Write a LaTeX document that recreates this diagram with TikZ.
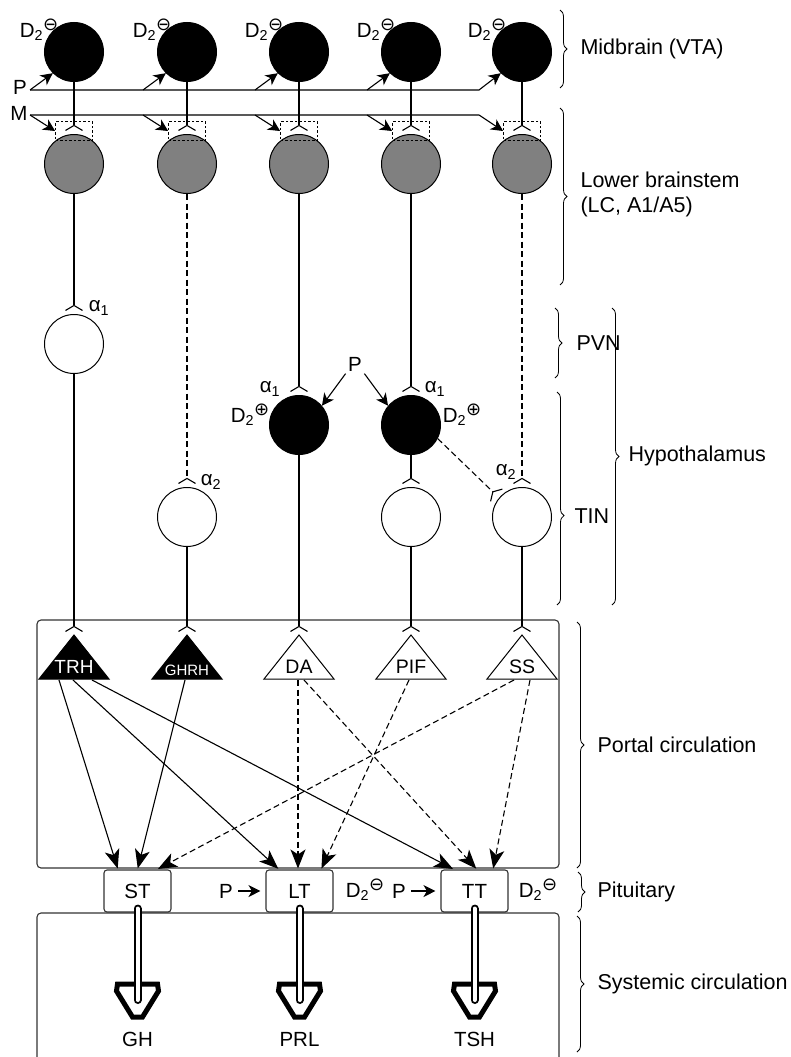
\documentclass[tikz,border=0pt]{standalone}
\usepackage{fontspec}
\setmainfont{Liberation Sans}
\newfontfamily\symfont{DejaVu Sans}
\usetikzlibrary{arrows.meta, calc, decorations.pathreplacing}
\newcommand{\dtwo}[1]{D\textsubscript{2}\raisebox{0.32em}{\symfont\fontsize{18}{18}\selectfont #1}}
\tikzset{
  nrn/.style={circle, draw, line width=1pt, minimum size=59pt, inner sep=0pt},
  rcp/.style={-{Straight Barb[reversed, length=5pt, width=17pt]}, shorten >=3pt},
  arr/.style={-{Stealth[length=12pt, width=12pt, inset=3.5pt]}},
  bigarr/.style={-{Stealth[length=19pt, width=15pt, inset=5pt]}, shorten >=1pt},
  dsh/.style={dash pattern=on 6pt off 3.5pt},
  brc/.style={decorate, decoration={brace, amplitude=7pt}, line width=0.8pt},
  lbl/.style={anchor=west, font=\fontsize{21.5}{25}\selectfont, align=left},
  pitbox/.style={draw=black!80, rounded corners=3pt, minimum width=67pt, minimum height=42pt, inner sep=0pt}
}
\begin{document}
\begin{tikzpicture}[x=1pt, y=-1pt, line width=1.1pt, inner sep=2pt, font=\fontsize{20.5}{24}\selectfont]
\useasboundingbox (0,0) rectangle (791,1057);

\foreach \i/\x in {1/74, 2/187, 3/299, 4/411, 5/522} {
  \node[nrn, fill=black] (vta\i) at (\x,52) {};
  \node[nrn, fill=black!50] (lbs\i) at (\x,164) {};
  \node[draw, dash pattern=on 2.5pt off 2pt, line width=0.8pt, minimum width=37pt, minimum height=19pt, inner sep=0pt] (syn\i) at (\x,131) {};
  \node (dv\i) at (\x-35,30) {\dtwo{⊖}};
  \draw[rcp] (vta\i) -- (lbs\i);
}

\node (pin) at (20,87) {P};
\node (min) at (19,113) {M};
\coordinate (p0) at (30,90);
\coordinate (p1) at (479,90);
\coordinate (m0) at (30,115);
\coordinate (m1) at (479,115);
\draw[arr] (p0) -- (p1) -- (vta5.225);
\draw[arr] (m0) -- (m1) -- (syn5.west);
\foreach \i/\x in {1/74, 2/187, 3/299, 4/411} {
  \draw[arr] (\x-44,90) -- (vta\i.225);
  \draw[arr] (\x-44,115) -- (syn\i.west);
}

\node[nrn, fill=white] (pvn1) at (74,344) {};
\node[nrn, fill=white] (tin2) at (187,517) {};
\node[nrn, fill=black] (hyp3) at (299,425) {};
\node[nrn, fill=black] (hyp4) at (411,425) {};
\node[nrn, fill=white] (tin4) at (411,517) {};
\node[nrn, fill=white] (tin5) at (522,517) {};

\draw[rcp] (lbs1) -- (pvn1);
\draw[rcp, dsh] (lbs2) -- (tin2);
\draw[rcp] (lbs3) -- (hyp3);
\draw[rcp] (lbs4) -- (hyp4);
\draw[rcp, dsh] (lbs5) -- (tin5);
\draw[rcp] (hyp4) -- (tin4);
\draw[rcp, dsh] (hyp4.-27) -- (tin5.140);

\node (a1) at (99,308) {α\textsubscript{1}};
\node (a2) at (211,482) {α\textsubscript{2}};
\node (a3) at (270,389) {α\textsubscript{1}};
\node (a4) at (435,389) {α\textsubscript{1}};
\node (a5) at (506,472) {α\textsubscript{2}};
\node (dh3) at (250,415) {\dtwo{⊕}};
\node (dh4) at (462,415) {\dtwo{⊕}};
\node (phyp) at (355,364) {P};
\draw[arr] (phyp.south west) -- (hyp3.40);
\draw[arr] (phyp.south east) -- (hyp4.140);

\node[draw=black!80, rounded corners=4pt, minimum width=522pt, minimum height=248pt, inner sep=0pt] (portal) at (298,744) {};
\foreach \x/\n/\f in {74/trh/black, 187/ghrh/black, 299/da/white, 411/pif/white, 522/ss/white}
  \draw[fill=\f, line width=1pt] (\x-35,679) -- (\x,635) coordinate (\n-top) -- (\x+35,679) -- cycle;
\node[text=white, font=\fontsize{19}{22}\selectfont] (trh) at (74,667) {TRH};
\node[text=white, font=\fontsize{15}{18}\selectfont] (ghrh) at (187,670) {GHRH};
\node[font=\fontsize{19.5}{22}\selectfont] (da) at (299,667) {DA};
\node[font=\fontsize{19.5}{22}\selectfont] (pif) at (411,667) {PIF};
\node[font=\fontsize{19.5}{22}\selectfont] (ss) at (522,667) {SS};

\draw[rcp] (pvn1) -- (trh-top);
\draw[rcp] (tin2) -- (ghrh-top);
\draw[rcp] (hyp3) -- (da-top);
\draw[rcp] (tin4) -- (pif-top);
\draw[rcp] (tin5) -- (ss-top);

\node[pitbox] (st) at (137.5,891) {ST};
\node[pitbox] (lt) at (299.5,891) {LT};
\node[pitbox] (tt) at (474.5,891) {TT};

\draw[bigarr] ($(trh-top)+(-15,45)$) -- ([xshift=-19.5pt]st.north);
\draw[bigarr] ($(ghrh-top)+(-2,45)$) -- (st.north);
\draw[bigarr, dsh] ($(ss-top)+(-8,45)$) -- ([xshift=19.5pt]st.north);
\draw[bigarr] ($(trh-top)+(-1,45)$) -- ([xshift=-20.5pt]lt.north);
\draw[bigarr, dsh] ($(da-top)+(-1,45)$) -- ([xshift=-1.5pt]lt.north);
\draw[bigarr, dsh] ($(pif-top)+(-2,45)$) -- ([xshift=21.5pt]lt.north);
\draw[bigarr] ($(trh-top)+(18,45)$) -- ([xshift=-20.5pt]tt.north);
\draw[bigarr, dsh] ($(da-top)+(5,45)$) -- ([xshift=2.5pt]tt.north);
\draw[bigarr, dsh] ($(ss-top)+(8,45)$) -- ([xshift=18.5pt]tt.north);

\node (plt) at (226,891) {P};
\draw[arr, shorten <=3pt, shorten >=5pt] (plt) -- (lt);
\node (dlt) at (365,890) {\dtwo{⊖}};
\node (ptt) at (399,891) {P};
\draw[arr, shorten <=3pt, shorten >=5pt] (ptt) -- (tt);
\node (dtt) at (538,890) {\dtwo{⊖}};

\draw[black!80, rounded corners=4pt] (37,1060) -- (37,913) -- (559,913) -- (559,1060);
\foreach \n/\x in {st/137.5, lt/299.5, tt/474.5} {
  \draw[line width=5pt, fill=white] (\x-20,984) -- (\x-21,991) -- (\x-5,1017) -- (\x+5,1017) -- (\x+21,991) -- (\x+20,984) -- cycle;
  \draw[double=white, double distance=4pt, line width=2pt, line cap=round] ([yshift=4pt]\n.south) -- (\x,1000);
}
\node (gh) at (137.5,1039) {GH};
\node (prl) at (299.5,1039) {PRL};
\node (tsh) at (474.5,1039) {TSH};

\draw[brc] (560,10) -- (560,88);
\node[lbl] (mid) at (578,49) {Midbrain (VTA)};
\draw[brc] (560,108) -- (560,285);
\node[lbl] (lbst) at (578,194) {Lower brainstem\\(LC, A1/A5)};
\draw[brc] (555,308) -- (555,378);
\node[lbl] (pvn) at (574,343) {PVN};
\draw[brc, decoration={brace, amplitude=7pt, aspect=0.58}] (557,392) -- (557,605);
\node[lbl] (tin) at (572,516) {TIN};
\draw[brc] (612,308) -- (612,605);
\node[lbl] (hyp) at (626,456) {Hypothalamus};
\draw[brc] (577,622) -- (577,868);
\node[lbl] (por) at (595,745) {Portal circulation};
\draw[brc] (578,872) -- (578,912);
\node[lbl] (pit) at (595,892) {Pituitary};
\draw[brc] (577,916) -- (577,1052);
\node[lbl] (sys) at (595,984) {Systemic circulation};
\end{tikzpicture}
\end{document}
